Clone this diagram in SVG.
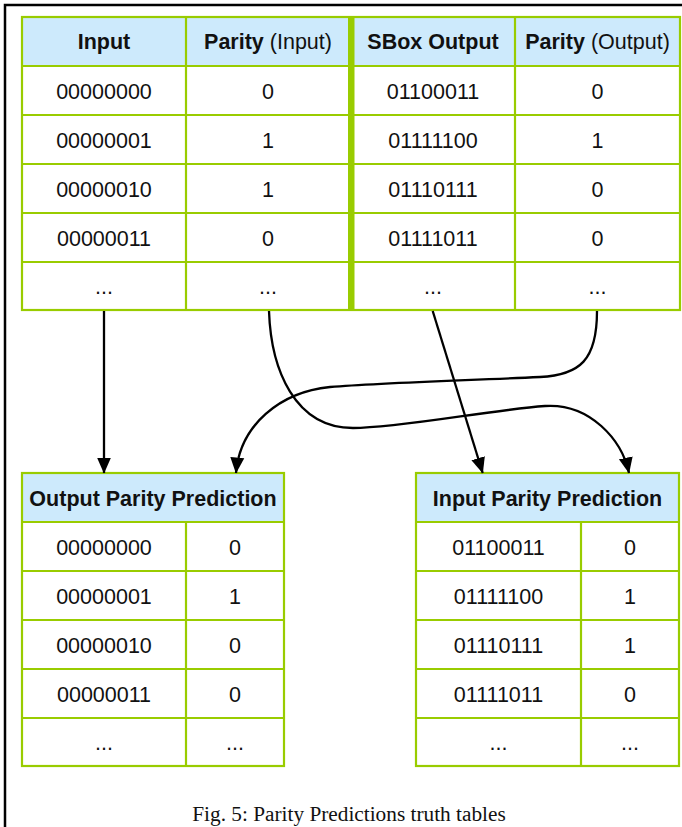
<svg xmlns="http://www.w3.org/2000/svg" width="682" height="827" viewBox="0 0 682 827">
<style>
.bg{fill:#ffffff}
.frame{stroke:#000;stroke-width:2.5;fill:none}
.hdr{fill:#cdeafc}
.cell{fill:#ffffff}
.grid{stroke:#99cc00;stroke-width:2.2;fill:none}
.thick{fill:#99cc00}
.t{font-family:"Liberation Sans",Arial,sans-serif;font-size:21.5px;fill:#111;text-anchor:middle}
.b{font-weight:bold}
.cap{font-family:"Liberation Serif","Times New Roman",serif;font-size:21.3px;fill:#111;text-anchor:middle}
.conn{stroke:#000;stroke-width:2.3;fill:none}
</style>
<defs>
<marker id="ah" markerUnits="userSpaceOnUse" markerWidth="16" markerHeight="16" viewBox="0 0 16 16" refX="15.5" refY="8" orient="auto">
<path d="M0,1 L16,8 L0,15 Z" fill="#000"/>
</marker>
</defs>
<rect class="bg" x="0" y="0" width="682" height="827"/>
<path class="frame" d="M5,827 V5 H682"/>

<g id="top-table">
<rect class="hdr" x="22" y="17" width="658" height="49"/>
<rect class="cell" x="22" y="66" width="658" height="244"/>
<rect class="grid" x="22" y="17" width="658" height="293"/>
<path class="grid" d="M22,66 H680 M22,115 H680 M22,164 H680 M22,213 H680 M22,262 H680 M186,17 V310 M515,17 V310"/>
<rect class="thick" x="348" y="16" width="6.5" height="295"/>
<text class="t b" x="104" y="49">Input</text>
<text class="t" x="268" y="49"><tspan class="b">Parity</tspan> (Input)</text>
<text class="t b" x="433" y="49">SBox Output</text>
<text class="t" x="597.5" y="49"><tspan class="b">Parity</tspan> (Output)</text>
<text class="t" x="104" y="98.5">00000000</text>
<text class="t" x="268" y="98.5">0</text>
<text class="t" x="433" y="98.5">01100011</text>
<text class="t" x="597.5" y="98.5">0</text>
<text class="t" x="104" y="147.5">00000001</text>
<text class="t" x="268" y="147.5">1</text>
<text class="t" x="433" y="147.5">01111100</text>
<text class="t" x="597.5" y="147.5">1</text>
<text class="t" x="104" y="196.5">00000010</text>
<text class="t" x="268" y="196.5">1</text>
<text class="t" x="433" y="196.5">01110111</text>
<text class="t" x="597.5" y="196.5">0</text>
<text class="t" x="104" y="245.5">00000011</text>
<text class="t" x="268" y="245.5">0</text>
<text class="t" x="433" y="245.5">01111011</text>
<text class="t" x="597.5" y="245.5">0</text>
<text class="t" x="104" y="294">...</text>
<text class="t" x="268" y="294">...</text>
<text class="t" x="433" y="294">...</text>
<text class="t" x="597.5" y="294">...</text>
</g>

<g id="output-parity-prediction">
<rect class="hdr" x="22" y="473" width="262" height="49"/>
<rect class="cell" x="22" y="522" width="262" height="244"/>
<rect class="grid" x="22" y="473" width="262" height="293"/>
<path class="grid" d="M22,522 H284 M22,571 H284 M22,620 H284 M22,669 H284 M22,718 H284 M186,522 V766"/>
<text class="t b" x="153" y="505.5">Output Parity Prediction</text>
<text class="t" x="104" y="554.5">00000000</text>
<text class="t" x="235" y="554.5">0</text>
<text class="t" x="104" y="603.5">00000001</text>
<text class="t" x="235" y="603.5">1</text>
<text class="t" x="104" y="652.5">00000010</text>
<text class="t" x="235" y="652.5">0</text>
<text class="t" x="104" y="701.5">00000011</text>
<text class="t" x="235" y="701.5">0</text>
<text class="t" x="104" y="750">...</text>
<text class="t" x="235" y="750">...</text>
</g>

<g id="input-parity-prediction">
<rect class="hdr" x="416" y="473" width="263" height="49"/>
<rect class="cell" x="416" y="522" width="263" height="244"/>
<rect class="grid" x="416" y="473" width="263" height="293"/>
<path class="grid" d="M416,522 H679 M416,571 H679 M416,620 H679 M416,669 H679 M416,718 H679 M581,522 V766"/>
<text class="t b" x="547.5" y="505.5">Input Parity Prediction</text>
<text class="t" x="498.5" y="554.5">01100011</text>
<text class="t" x="630" y="554.5">0</text>
<text class="t" x="498.5" y="603.5">01111100</text>
<text class="t" x="630" y="603.5">1</text>
<text class="t" x="498.5" y="652.5">01110111</text>
<text class="t" x="630" y="652.5">1</text>
<text class="t" x="498.5" y="701.5">01111011</text>
<text class="t" x="630" y="701.5">0</text>
<text class="t" x="498.5" y="750">...</text>
<text class="t" x="630" y="750">...</text>
</g>

<g id="connectors">
<path class="conn" marker-end="url(#ah)" d="M104,311 V473"/>
<path class="conn" marker-end="url(#ah)" d="M432.7,311 L482.7,473"/>
<path class="conn" marker-end="url(#ah)" d="M269,311 C271,370 295,428 353,428 C400,428 490,410 545,406 C590,403 622,440 629,473"/>
<path class="conn" marker-end="url(#ah)" d="M597,311 C597,360 580,375 540,377 C450,381 380,383 330,387 C280,392 240,425 236,473"/>
</g>

<text class="cap" x="349" y="821">Fig. 5: Parity Predictions truth tables</text>
</svg>
